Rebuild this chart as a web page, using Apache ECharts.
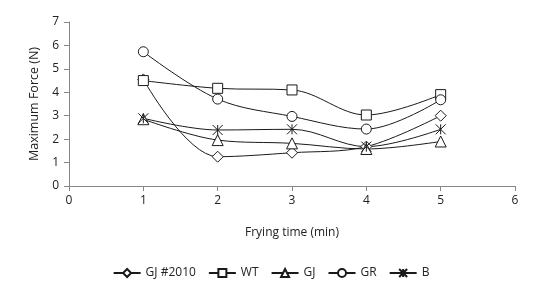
<!DOCTYPE html>
<html>
<head>
<meta charset="utf-8">
<script src="https://cdn.jsdelivr.net/npm/echarts@6/dist/echarts.min.js"></script>
<style>
  html, body { margin: 0; padding: 0; background: #fff; }
  #chart { width: 542px; height: 299px; }
</style>
</head>
<body>
<div id="chart"></div>
<script>
const times = [1, 2, 3, 4, 5];
const gj2010 = [4.55, 1.25, 1.42, 1.68, 3.0];
const wt = [4.5, 4.17, 4.1, 3.03, 3.9];
const gj = [2.85, 1.96, 1.82, 1.58, 1.9];
const gr = [5.73, 3.71, 2.97, 2.43, 3.68];
const b = [2.89, 2.39, 2.42, 1.68, 2.42];

const asterisk = 'path://M0,0L10,10M10,0L0,10M5,0L5,10';

const chart = echarts.init(document.getElementById('chart'));

const axisColor = '#868686';
const font = '"Open Sans", sans-serif';

function makeSeries(name, values, symbol, size) {
  return {
    name,
    type: 'line',
    data: times.map((t, i) => [t, values[i]]),
    smooth: 0.35,
    symbol,
    symbolSize: size,
    lineStyle: { color: '#1a1a1a', width: 1 },
    itemStyle: { color: '#fff', borderColor: '#1a1a1a', borderWidth: 1 }
  };
}

chart.setOption({
  animation: false,
  textStyle: { fontFamily: font },
  grid: { left: 69, right: 27, top: 22, bottom: 113 },
  legend: {
    left: 'center',
    top: 262,
    itemWidth: 27,
    itemHeight: 10,
    itemGap: 12,
    textStyle: { fontSize: 12, color: '#222', fontFamily: font }
  },
  xAxis: {
    type: 'value',
    min: 0,
    max: 6,
    interval: 1,
    name: 'Frying time (min)',
    nameLocation: 'middle',
    nameGap: 41,
    nameTextStyle: { fontSize: 12, color: '#222' },
    splitLine: { show: false },
    axisLine: { lineStyle: { color: axisColor } },
    axisTick: { length: 5, lineStyle: { color: axisColor } },
    axisLabel: { fontSize: 12, color: '#222', margin: 9 }
  },
  yAxis: {
    type: 'value',
    min: 0,
    max: 7,
    interval: 1,
    name: 'Maximum Force (N)',
    nameLocation: 'middle',
    nameGap: 28,
    nameRotate: 90,
    nameTextStyle: { fontSize: 12.5, color: '#222' },
    splitLine: { show: false },
    axisLine: { show: true, lineStyle: { color: axisColor } },
    axisTick: { show: true, length: 5, lineStyle: { color: axisColor } },
    axisLabel: { fontSize: 12, color: '#222', margin: 10 }
  },
  series: [
    makeSeries('GJ #2010', gj2010, 'diamond', 11),
    makeSeries('WT', wt, 'rect', 10),
    makeSeries('GJ', gj, 'triangle', 11),
    makeSeries('GR', gr, 'circle', 10),
    makeSeries('B', b, asterisk, 10)
  ]
});
</script>
</body>
</html>
